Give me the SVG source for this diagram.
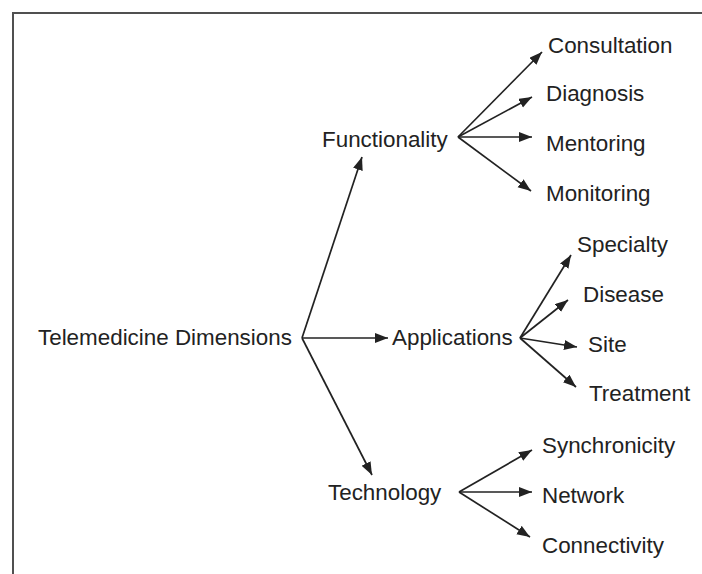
<svg xmlns="http://www.w3.org/2000/svg" width="702" height="574" viewBox="0 0 702 574">
<style>
text{font-family:"Liberation Sans",Arial,sans-serif;font-size:22.4px;fill:#222}
.c line{stroke:#222;stroke-width:1.7;marker-end:url(#ah)}
</style>
<defs>
<marker id="ah" markerUnits="userSpaceOnUse" markerWidth="14" markerHeight="11" refX="13" refY="5" orient="auto">
<path d="M0,0 L13,5 L0,10 z" fill="#222"/>
</marker>
</defs>
<rect width="702" height="574" fill="#fff"/>
<path d="M13,574 V13 H702" fill="none" stroke="#505050" stroke-width="2"/>
<g class="c" id="connectors">
<line x1="302" y1="338" x2="362" y2="157"/>
<line x1="302" y1="338" x2="388" y2="338"/>
<line x1="302" y1="338" x2="372" y2="475"/>
<line x1="458" y1="137" x2="542" y2="52"/>
<line x1="458" y1="137" x2="532" y2="97"/>
<line x1="458" y1="137" x2="532" y2="137"/>
<line x1="458" y1="137" x2="531" y2="191"/>
<line x1="520" y1="338" x2="571" y2="255"/>
<line x1="520" y1="338" x2="568" y2="300"/>
<line x1="520" y1="338" x2="577" y2="347"/>
<line x1="520" y1="338" x2="576" y2="387"/>
<line x1="459" y1="492" x2="532" y2="450"/>
<line x1="459" y1="492" x2="532" y2="492"/>
<line x1="459" y1="492" x2="530" y2="537"/>
</g>
<g id="root"><text x="38" y="345">Telemedicine Dimensions</text></g>
<g id="functionality"><text x="322" y="147">Functionality</text></g>
<g id="applications"><text x="392" y="345">Applications</text></g>
<g id="technology"><text x="328" y="500">Technology</text></g>
<g id="consultation"><text x="548" y="53">Consultation</text></g>
<g id="diagnosis"><text x="546" y="101">Diagnosis</text></g>
<g id="mentoring"><text x="546" y="151">Mentoring</text></g>
<g id="monitoring"><text x="546" y="201">Monitoring</text></g>
<g id="specialty"><text x="577" y="252">Specialty</text></g>
<g id="disease"><text x="583" y="302">Disease</text></g>
<g id="site"><text x="588" y="352">Site</text></g>
<g id="treatment"><text x="589" y="401">Treatment</text></g>
<g id="synchronicity"><text x="542" y="453">Synchronicity</text></g>
<g id="network"><text x="542" y="503">Network</text></g>
<g id="connectivity"><text x="542" y="553">Connectivity</text></g>
</svg>
